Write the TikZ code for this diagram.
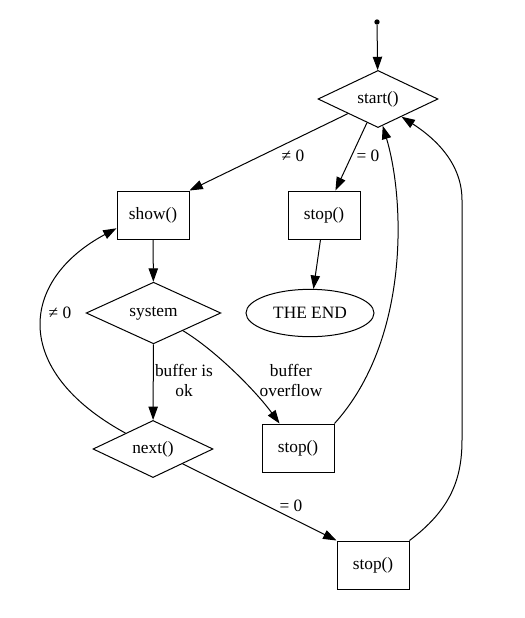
\documentclass[tikz,border=0pt]{standalone}
\usepackage{fontspec}
\setmainfont{Liberation Serif}
\usetikzlibrary{arrows.meta,shapes.geometric}

\begin{document}
\begin{tikzpicture}[x=0.75pt,y=-0.75pt,line width=0.75pt,
		>={Triangle[length=10pt,width=7pt]},
		every node/.style={font=\fontsize{13}{15}\selectfont},
		box/.style={draw,rectangle,minimum width=54pt,minimum height=36pt,inner sep=0pt},
		choice/.style={draw,diamond,minimum width=90pt,minimum height=35.5pt,inner sep=0pt},
		lbl/.style={align=center,inner sep=0pt}]
				\useasboundingbox (0,0) rectangle (525,618);
				% nodes
				\node[circle,fill,inner sep=0pt,minimum size=4pt] (init) at (377,22) {};
				\node[choice] (start) at (378,99) {start()};
				\node[box] (show) at (153,215) {show()};
				\node[box] (stopA) at (324,215) {stop()};
				\node[choice,minimum width=101pt] (system) at (153.5,313) {system};
				\node[draw,ellipse,minimum width=96pt,minimum height=35.5pt,inner sep=0pt] (end) at (310,313) {THE END};
				\node[choice,minimum height=36pt] (next) at (153,449) {next()};
				\node[box] (stopB) at (298,448) {stop()};
				\node[box] (stopC) at (373,565) {stop()};
				% edges
				\draw[->] (init) -- (start);
				\draw[->] (start) -- (show.north east);
				\draw[->] (start) -- (stopA.65);
				\draw[->] (stopA) -- (end);
				\draw[->] (show) -- (system);
				\draw[->] (system) -- (next);
				\draw[->] (system.-31) .. controls (215,350) and (255,390) .. (stopB.127);
				\draw[->] (stopB.north east) .. controls (410,340) and (405,200) .. (start.-80);
				\draw[->] (next.150) .. controls (10,370) and (20,280) .. (show.200);
				\draw[->] (next) -- (stopC.north west);
				\draw[->] (stopC.north east) .. controls (450,510) and (462,480) .. (462,440)
					-- (462,200) .. controls (462,160) and (430,135) .. (start.-37);
				% labels
				\node[lbl] (l1) at (293,156) {≠ 0};
				\node[lbl] (l2) at (368,156) {= 0};
				\node[lbl] (l3) at (184,380) {buffer is\\ok};
				\node[lbl] (l4) at (291,380) {buffer\\overflow};
				\node[lbl] (l5) at (60,313) {≠ 0};
				\node[lbl] (l6) at (291,506) {= 0};
		\end{tikzpicture}
\end{document}
